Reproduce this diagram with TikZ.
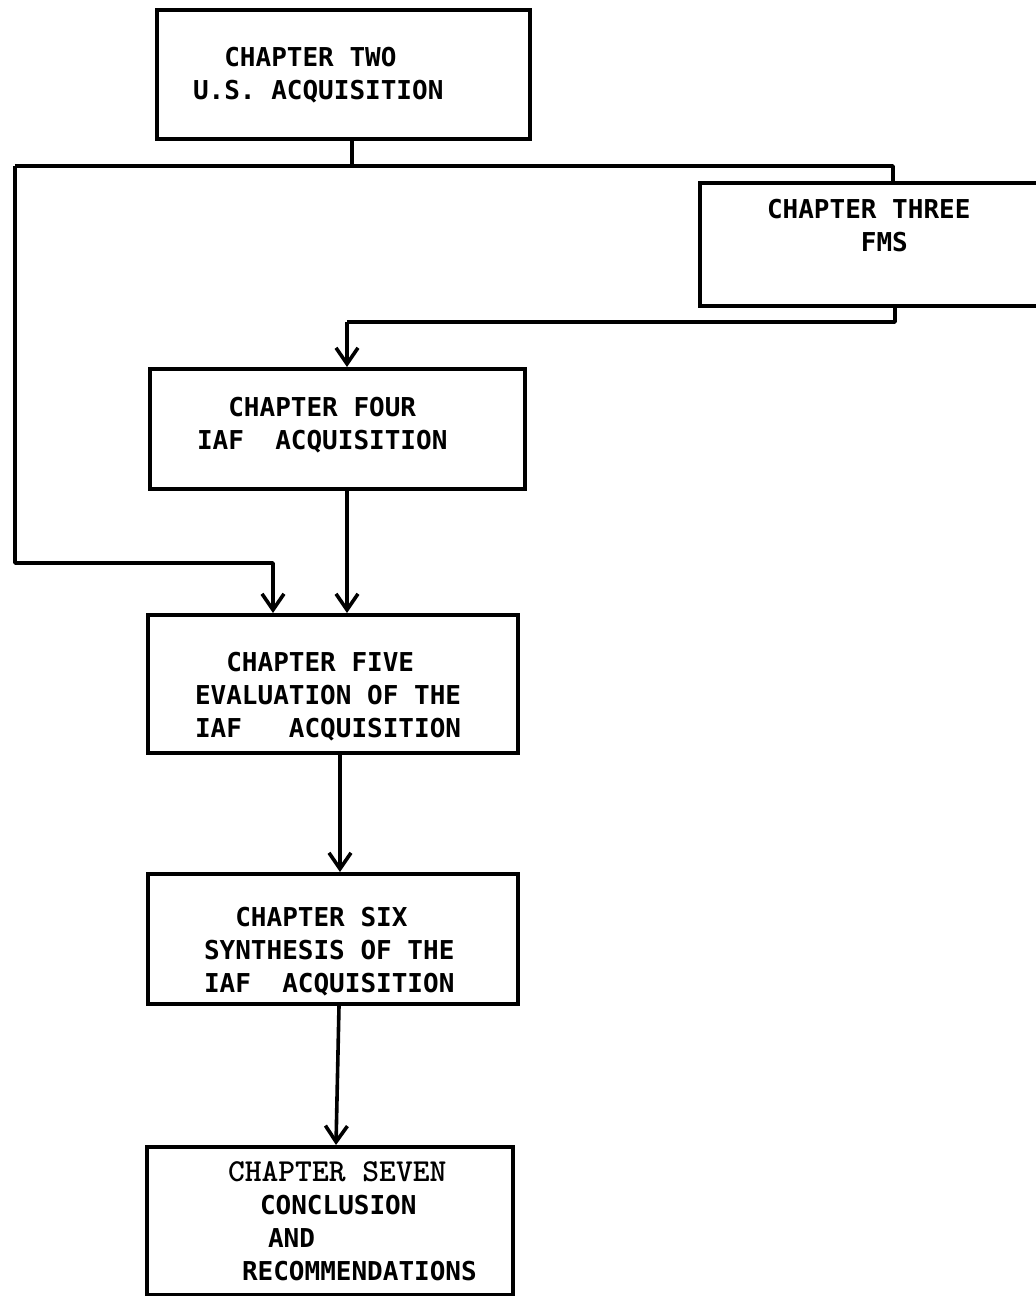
\documentclass[tikz,border=0pt]{standalone}
\usepackage{fontspec}
\usetikzlibrary{arrows.meta}
\newfontfamily\chapmono{DejaVu Sans Mono}
\newcommand{\boxfont}{\chapmono\bfseries\fontsize{26pt}{33pt}\selectfont}
\newcommand{\headfont}{\ttfamily\bfseries\fontsize{32pt}{33pt}\selectfont}
% one full typewriter cell of blank
\newcommand{\gap}{\phantom{0}}

\begin{document}
\begin{tikzpicture}[
        x=1pt, y=-1pt,
        % chapter boxes, placed by their top edge
        chapter/.style={
            draw, line width=4pt, anchor=north,
            align=left, inner ysep=0pt, font=\boxfont
        },
        % plain and arrowed connectors
        conn/.style={line width=3.6pt, line join=round},
        flow/.style={conn, -{Straight Barb[length=16pt, width=22pt]}}
    ]
    \useasboundingbox (0,0) rectangle (1036,1296);

    % 1. CHAPTER BOXES
    \node[chapter, inner xsep=36pt, text width=301pt, text height=56.5pt, text depth=72.5pt]
        (two) at (343.5,8) {\gap\gap CHAPTER\gap TWO\\U.S.\gap ACQUISITION};
    \node[chapter, inner xsep=67pt, text width=216pt, text height=35.5pt, text depth=87.5pt]
        (three) at (875,181) {CHAPTER\gap THREE\\\gap\gap\gap\gap\gap\gap FMS};
    \node[chapter, inner xsep=47pt, text width=281pt, text height=47.5pt, text depth=72.5pt]
        (four) at (337.5,367) {\gap\gap CHAPTER\gap FOUR\\IAF\gap\gap ACQUISITION};
    \node[chapter, inner xsep=47pt, text width=276pt, text height=56.5pt, text depth=81.5pt]
        (five) at (333,613) {\gap\gap CHAPTER\gap FIVE\\EVALUATION\gap OF\gap THE\\IAF\gap\gap\gap ACQUISITION};
    \node[chapter, inner xsep=56pt, text width=258pt, text height=52.5pt, text depth=77.5pt]
        (six) at (333,872) {\gap\gap CHAPTER\gap SIX\\SYNTHESIS\gap OF\gap THE\\IAF\gap\gap ACQUISITION};
    \node[chapter, inner xsep=32pt, text width=302pt, text height=34.5pt, text depth=113.5pt]
        (seven) at (330,1145) {\hspace*{49pt}{\headfont CHAPTER\gap SEVEN}\\\hspace*{81pt}CONCLUSION\\\hspace*{89pt}AND\\\hspace*{63pt}RECOMMENDATIONS};

    % 2. BEND POINTS
    \coordinate (split) at (352,166);
    \coordinate (tl)    at (15,166);
    \coordinate (tr)    at (893,166);
    \coordinate (bl)    at (15,563);
    \coordinate (br)    at (273,563);
    \coordinate (mr)    at (895,322);
    \coordinate (ml)    at (347,322);

    % 3. CONNECTORS
    \draw[conn] (two.south -| split) -- (split);
    \draw[conn] (tl) -- (tr) -- (tr |- three.north);
    \draw[flow] (tl) -- (bl) -- (br) -- (br |- five.north);
    \draw[conn] (three.south -| mr) -- (mr) -- (ml);
    \draw[flow] (ml) -- (ml |- four.north);
    \draw[flow] (four.south -| ml) -- (five.north -| ml);
    \draw[flow] ([xshift=7pt]five.south) -- ([xshift=7pt]six.north);
    \draw[flow] ([xshift=6pt]six.south) -- ([xshift=6pt]seven.north);

\end{tikzpicture}
\end{document}
